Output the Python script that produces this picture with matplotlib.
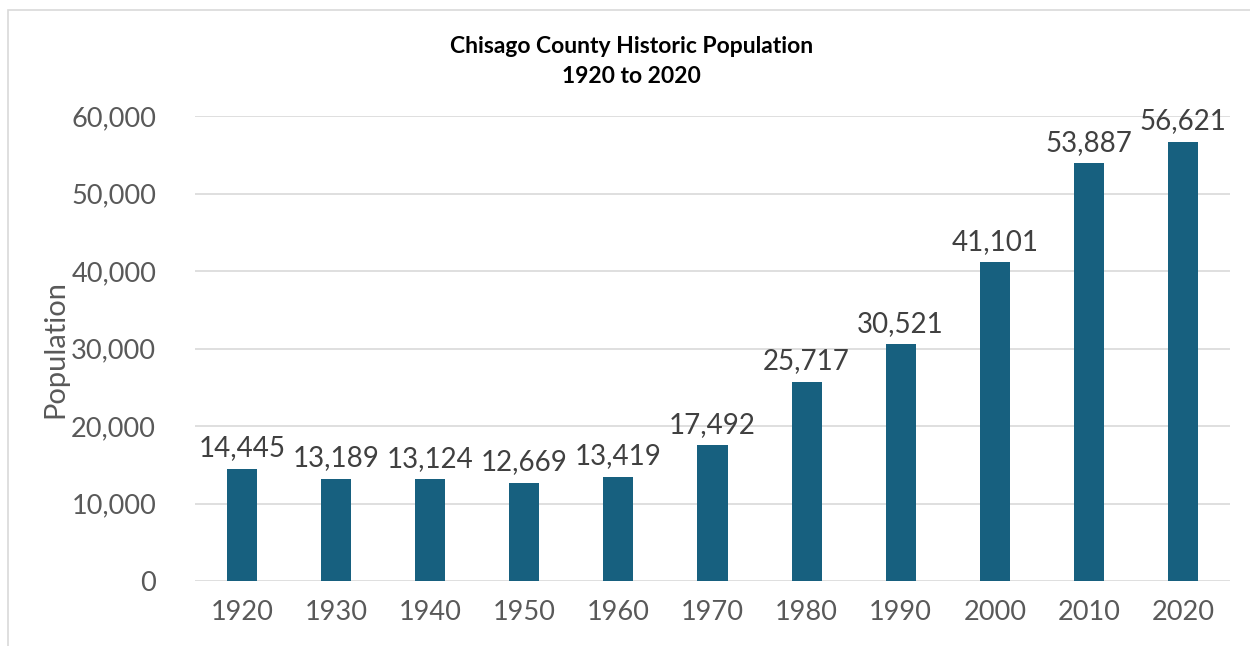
import matplotlib.pyplot as plt
from matplotlib.patches import Rectangle

years = ['1920', '1930', '1940', '1950', '1960', '1970', '1980', '1990', '2000', '2010', '2020']
population = [14445, 13189, 13124, 12669, 13419, 17492, 25717, 30521, 41101, 53887, 56621]

bar_color = '#17607F'
text_color = '#595959'

plt.rcParams['font.family'] = ['Lato', 'DejaVu Sans']

fig = plt.figure(figsize=(12.5, 6.46), dpi=100)
ax = fig.add_axes([0.156, 0.1006, 0.828, 0.7198])

x = range(len(years))
bars = ax.bar(x, population, width=0.32, color=bar_color, zorder=3)
for i, v in enumerate(population):
    ax.text(i, v + 1000, f'{v:,}', ha='center', va='bottom', fontsize=20, color='#404040')

ax.set_xlim(-0.5, len(years) - 0.5)
ax.set_ylim(0, 60000)
ax.set_yticks(range(0, 60001, 10000))
ax.set_yticklabels([f'{t:,}' for t in range(0, 60001, 10000)])
ax.set_xticks(list(x))
ax.set_xticklabels(years)
ax.tick_params(axis='both', length=0, labelsize=19.5, labelcolor=text_color)
ax.tick_params(axis='y', pad=28)
ax.tick_params(axis='x', pad=14)
ax.grid(axis='y', color='#D9D9D9', linewidth=1.2, zorder=0)
for s in ax.spines.values():
    s.set_visible(False)
ax.set_ylabel('Population', fontsize=21, color=text_color, labelpad=2)

fig.text(0.505, 0.905, 'Chisago County Historic Population\n1920 to 2020', ha='center', va='center',
         fontsize=16.5, fontweight='bold', color='black', linespacing=1.5)

# light border around the chart area
fig.patches.append(Rectangle((8 / 1250, -0.05), 1.1, 1 - 10 / 646 + 0.05, transform=fig.transFigure,
                             fill=False, edgecolor='#D9D9D9', linewidth=1.2))

fig.savefig('out.png', dpi=100)
